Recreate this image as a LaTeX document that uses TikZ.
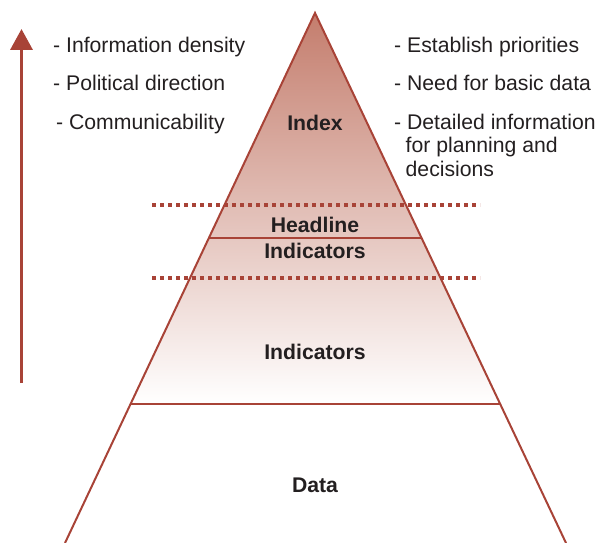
\documentclass[tikz,border=0pt]{standalone}
\usepackage{fontspec}
\setmainfont{Liberation Sans}
\usetikzlibrary{calc,positioning,arrows.meta}
\definecolor{pyrline}{HTML}{A84337}
\definecolor{pyrtop}{HTML}{C47D6D}
\definecolor{pyrtext}{HTML}{231F20}

\begin{document}
\begin{tikzpicture}[x=1pt,y=-1pt,
  edge/.style={draw=pyrline, line width=2pt},
  sep/.style={draw=pyrline, line width=3.5pt, dash pattern=on 4pt off 4pt},
  item/.style={anchor=base west, inner sep=0pt, text=pyrtext,
    font=\fontsize{21.2}{24}\selectfont},
  level/.style={anchor=base, inner sep=0pt, text=pyrtext,
    font=\fontsize{21.2}{24}\selectfont\bfseries}]

  \useasboundingbox (0,0) rectangle (595,543);

  \coordinate (apex) at (315,13);
  \coordinate (footL) at (65,543);
  \coordinate (footR) at (566,543);
  \coordinate (headL) at ($(apex)!0.4245!(footL)$);
  \coordinate (headR) at ($(apex)!0.4245!(footR)$);
  \coordinate (dataL) at ($(apex)!0.7377!(footL)$);
  \coordinate (dataR) at ($(apex)!0.7377!(footR)$);

  % fading fill over the upper layers
  \shade[top color=pyrtop, bottom color=white] (apex) -- (dataL) -- (dataR) -- cycle;

  \draw[edge] (footL) -- (apex) -- (footR);
  \draw[edge] (headL) -- (headR);
  \draw[edge] (dataL) -- (dataR);

  \coordinate (sepA1) at (152,205);
  \coordinate (sepA2) at (480,205);
  \coordinate (sepB1) at (152,278);
  \coordinate (sepB2) at (480,278);
  \draw[sep] (sepA1) -- (sepA2);
  \draw[sep] (sepB1) -- (sepB2);

  \coordinate (arrowfoot) at (21.5,383);
  \coordinate (arrowtip) at (21.5,29);
  \draw[pyrline, line width=3.5pt, -{Triangle[width=22pt,length=21pt]}]
    (arrowfoot) -- (arrowtip);

  \node[level] (indexlabel) at (315,130) {Index};
  \node[level] (headlabel) at (315,232.5) {Headline};
  \node[level] (headindlabel) at (315,258) {Indicators};
  \node[level] (indlabel) at (315,359) {Indicators};
  \node[level] (datalabel) at (315,492) {Data};

  \node[item] (densityitem) at (53,53) {- Information density};
  \node[item] (directionitem) at (53,91) {- Political direction};
  \node[item] (communitem) at (56,129) {- Communicability};

  \node[item] (priorityitem) at (394,52.5) {- Establish priorities};
  \node[item] (basicitem) at (394,90.5) {- Need for basic data};
  \node[item] (detailitem) at (394,129) {- Detailed information};
  \node[item] (planitem) at ($(detailitem.base west)+(11.5,23.8)$) {for planning and};
  \node[item] (decisionitem) at ($(planitem.base west)+(0,23.8)$) {decisions};

\end{tikzpicture}
\end{document}
